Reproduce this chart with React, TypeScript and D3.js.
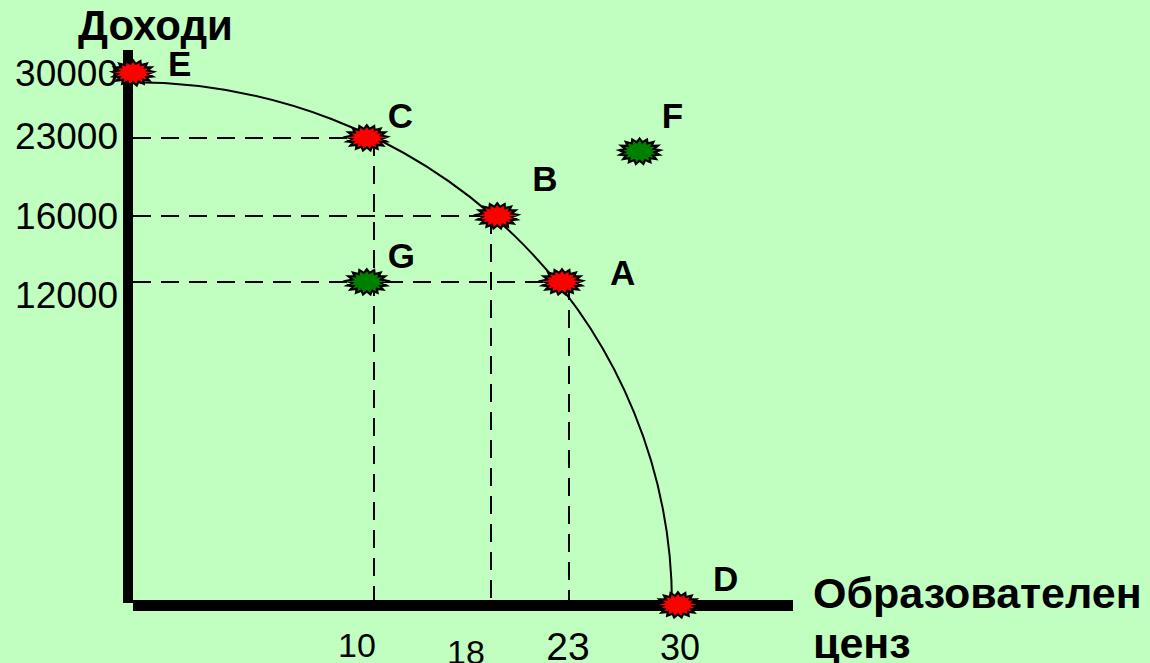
import { useEffect } from "react";
import * as d3 from "d3";

const W = 1150;
const H = 663;
const BG = "#c0ffc0";
const FONT = "'Liberation Sans', Arial, sans-serif";

// axis ticks
const X_TICKS = [10, 18, 23, 30];
const Y_TICKS = [30000, 23000, 16000, 12000];

// points (education, income)
const POINT_NAMES = ["E", "C", "B", "A", "D", "G", "F"];
const POINT_X = [0, 9.7, 18.4, 22.55, 30.4, 9.7, 27.8];
const POINT_Y = [30000, 23000, 16000, 12000, 0, 12000, 21800];
const POINT_ON_FRONTIER = [true, true, true, true, true, false, false];

// dashed guides from frontier points to the axes
const GUIDE_X = [10, 18, 23];
const GUIDE_Y = [23000, 16000, 12000];

// frontier ends
const FRONTIER_TOP = 29000;
const FRONTIER_RIGHT = 30;

// label placement (layout only)
const LABEL_OFFSET: Record<string, [number, number]> = {
  E: [35, 3],
  C: [21, -10],
  B: [35, -25],
  A: [48, 3],
  D: [35, -14],
  G: [21, -14],
  F: [22, -23],
};
const X_TICK_LAYOUT = [
  { dx: -17, size: 34, base: 657 },
  { dx: -25, size: 34, base: 664 },
  { dx: -1, size: 39, base: 660 },
  { dx: 8, size: 36, base: 660 },
];
const Y_TICK_SHIFT = [0, -2, 0, 13];

function Burst({ x, y, fill }: { x: number; y: number; fill: string }) {
  const n = 17;
  const pts: [number, number][] = d3
    .range(n * 2)
    .map((i) => [(i * Math.PI) / n, i % 2 === 0 ? 20.5 : 15]);
  const d = d3.lineRadial().curve(d3.curveLinearClosed)(pts) || "";
  return (
    <path
      d={d}
      transform={`translate(${x},${y}) scale(1,0.62)`}
      fill={fill}
      stroke="#000"
      strokeWidth={2.2}
      strokeLinejoin="miter"
      vectorEffect="non-scaling-stroke"
    />
  );
}

export default function App() {
  useEffect(() => {
    document.body.style.margin = "0";
    document.body.style.background = BG;
  }, []);

  const xScale = d3
    .scaleLinear()
    .domain([0, 10, 18, 23, 30])
    .range([133, 374, 491, 569, 672]);
  const yScale = d3
    .scaleLinear()
    .domain([0, 12000, 16000, 23000, 30000])
    .range([605, 282, 216, 138, 73]);

  const x0 = xScale(0);
  const y0 = yScale(0);
  const fx0 = xScale(0);
  const fy0 = yScale(FRONTIER_TOP);
  const fx1 = xScale(FRONTIER_RIGHT);
  const rx = fx1 - fx0;
  const ry = y0 - fy0;
  const frontier = `M${fx0},${fy0} A${rx},${ry} 0 0 1 ${fx1},${y0}`;

  const dash = "18 10";

  return (
    <svg
      width={W}
      height={H}
      style={{ position: "fixed", left: 0, top: 0, background: BG }}
      fontFamily={FONT}
    >
      <rect width={W} height={H} fill={BG} />

      {/* dashed guides */}
      {GUIDE_X.map((gx, i) => (
        <g key={i} stroke="#000" strokeWidth={2} strokeDasharray={dash} fill="none">
          <line x1={x0} x2={xScale(gx)} y1={yScale(GUIDE_Y[i])} y2={yScale(GUIDE_Y[i])} />
          <line x1={xScale(gx)} x2={xScale(gx)} y1={yScale(GUIDE_Y[i])} y2={600} />
        </g>
      ))}

      {/* frontier */}
      <path d={frontier} fill="none" stroke="#000" strokeWidth={2} />

      {/* axes */}
      <line x1={128} x2={128} y1={50} y2={603} stroke="#000" strokeWidth={10} />
      <line x1={133} x2={793} y1={605.5} y2={605.5} stroke="#000" strokeWidth={11} />

      {/* y ticks */}
      {Y_TICKS.map((v, i) => (
        <text
          key={v}
          x={118}
          y={yScale(v) + Y_TICK_SHIFT[i]}
          dy="0.36em"
          textAnchor="end"
          fontSize={37}
          fill="#000"
        >
          {v}
        </text>
      ))}

      {/* x ticks */}
      {X_TICKS.map((v, i) => (
        <text
          key={v}
          x={xScale(v) + X_TICK_LAYOUT[i].dx}
          y={X_TICK_LAYOUT[i].base}
          textAnchor="middle"
          fontSize={X_TICK_LAYOUT[i].size}
          fill="#000"
        >
          {v}
        </text>
      ))}

      {/* points */}
      {POINT_NAMES.map((name, i) => {
        const px = xScale(POINT_X[i]);
        const py = yScale(POINT_Y[i]);
        const [dx, dy] = LABEL_OFFSET[name];
        return (
          <g key={name}>
            <Burst x={px} y={py} fill={POINT_ON_FRONTIER[i] ? "#ff0000" : "#008000"} />
            <text x={px + dx} y={py + dy} fontSize={35} fontWeight="bold" fill="#000">
              {name}
            </text>
          </g>
        );
      })}

      {/* axis titles */}
      <text x={78} y={40} fontSize={42} fontWeight="bold" fill="#000">
        Доходи
      </text>
      <text x={813} y={608} fontSize={43} fontWeight="bold" fill="#000">
        Образователен
      </text>
      <text x={813} y={658} fontSize={43} fontWeight="bold" fill="#000">
        ценз
      </text>
    </svg>
  );
}
